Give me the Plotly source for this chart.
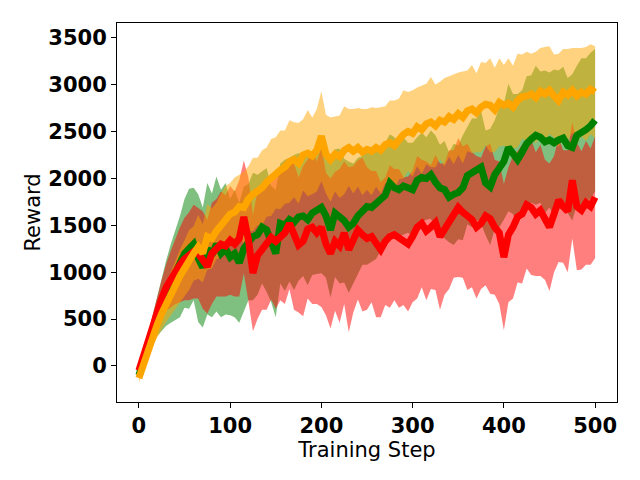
import numpy as np
import plotly.graph_objects as go

# training steps, sampled every 5 steps
steps = np.arange(0, 501, 5)

green_mean = [-100, 60, 230, 390, 530, 660, 780, 880, 970, 1060,
              1200, 1250, 1300, 1150, 1050, 1250, 1180, 1300, 1200, 1250,
              1160, 1200, 1100, 1250, 1320, 1380, 1400, 1480, 1450, 1300,
              1200, 1520, 1500, 1560, 1530, 1590, 1600, 1560, 1630, 1660,
              1690, 1600, 1450, 1630, 1600, 1550, 1480, 1520, 1600, 1660,
              1700, 1690, 1740, 1770, 1820, 1950, 1900, 1880, 1920, 1900,
              1880, 1980, 2010, 2000, 2040, 1960, 1900, 1880, 1800, 1830,
              1850, 1900, 2030, 2060, 2100, 2120, 1950, 1910, 2040, 2120,
              2180, 2330, 2260, 2200, 2280, 2370, 2420, 2460, 2440, 2390,
              2410, 2380, 2410, 2430, 2350, 2330, 2460, 2480, 2520, 2560,
              2620]
green_std = [30, 60, 100, 150, 210, 280, 350, 420, 480, 540,
             580, 640, 600, 680, 640, 700, 660, 720, 680, 700,
             620, 680, 640, 660, 620, 680, 640, 600, 660, 620,
             680, 640, 700, 660, 720, 680, 640, 700, 660, 680,
             700, 660, 720, 680, 720, 660, 700, 640, 620, 580,
             620, 580, 600, 540, 560, 520, 540, 500, 520, 480,
             500, 460, 480, 440, 470, 500, 460, 520, 480, 540,
             500, 560, 520, 580, 540, 600, 560, 620, 580, 640,
             620, 680, 640, 700, 660, 720, 680, 740, 700, 760,
             720, 780, 740, 760, 720, 780, 740, 800, 760, 780,
             760]

red_mean = [-50, 110, 280, 440, 580, 720, 840, 930, 1010, 1080,
            1140, 1170, 1220, 1200, 1130, 1060, 1200, 1260, 1300, 1280,
            1340, 1300, 1360, 1590, 1350, 990, 1180, 1240, 1300, 1370,
            1330, 1380, 1420, 1520, 1380, 1290, 1330, 1460, 1480, 1420,
            1480, 1300, 1200, 1330, 1280, 1420, 1240, 1350, 1450, 1400,
            1360, 1380, 1300, 1240, 1330, 1380, 1400, 1360, 1330, 1300,
            1380, 1480, 1520, 1440, 1480, 1530, 1380, 1460, 1560, 1620,
            1690, 1640, 1590, 1560, 1480, 1520, 1600, 1570, 1480, 1420,
            1160, 1400, 1480, 1590, 1620, 1720, 1690, 1620, 1660, 1560,
            1480, 1620, 1770, 1700, 1650, 1980, 1700, 1660, 1740, 1700,
            1800]
red_std = [30, 50, 80, 110, 150, 200, 250, 300, 350, 400,
           440, 470, 500, 480, 520, 500, 540, 520, 560, 540,
           580, 560, 620, 600, 660, 620, 680, 640, 700, 660,
           720, 680, 760, 700, 780, 720, 800, 740, 820, 760,
           850, 760, 800, 740, 820, 760, 880, 780, 740, 820,
           760, 700, 780, 720, 680, 760, 700, 740, 680, 720,
           700, 760, 680, 740, 660, 720, 780, 700, 740, 680,
           740, 700, 780, 720, 760, 700, 740, 800, 720, 760,
           780, 720, 760, 700, 740, 680, 720, 660, 700, 640,
           680, 620, 660, 600, 650, 620, 680, 630, 660, 620,
           650]

orange_mean = [-130, 20, 180, 320, 440, 560, 670, 770, 870, 960,
               1040, 1130, 1200, 1270, 1200, 1380, 1360, 1440, 1500, 1560,
               1620, 1640, 1700, 1690, 1780, 1830, 1860, 1900, 1960, 2010,
               2060, 2090, 2120, 2180, 2200, 2160, 2250, 2270, 2240, 2300,
               2450, 2260, 2200, 2260, 2230, 2300, 2330, 2290, 2330, 2280,
               2310, 2290, 2330, 2300, 2360, 2380, 2350, 2420, 2470, 2500,
               2480, 2550, 2520, 2580, 2600, 2560, 2620, 2600, 2660, 2630,
               2690, 2650, 2720, 2740, 2700, 2760, 2790, 2780, 2730, 2810,
               2780, 2800, 2760, 2830, 2870, 2880, 2900, 2860, 2930, 2900,
               2940, 2880, 2830, 2920, 2890, 2940, 2880, 2920, 2900, 2950,
               2920]
orange_std = [50, 70, 90, 110, 140, 170, 200, 230, 260, 280,
              300, 320, 290, 340, 310, 350, 320, 300, 340, 360,
              330, 370, 340, 380, 350, 390, 360, 400, 370, 410,
              380, 420, 390, 440, 400, 430, 380, 460, 410, 440,
              480, 420, 450, 400, 440, 470, 410, 450, 420, 460,
              430, 470, 420, 460, 410, 450, 480, 430, 470, 420,
              460, 420, 470, 430, 480, 440, 410, 470, 430, 480,
              440, 490, 430, 470, 420, 480, 440, 500, 450, 470,
              430, 480, 440, 500, 450, 470, 430, 490, 460, 500,
              470, 440, 500, 460, 490, 450, 510, 470, 500, 480,
              490]

series = [
    ("green", green_mean, green_std, "rgba(0,128,0,0.5)"),
    ("red", red_mean, red_std, "rgba(255,0,0,0.5)"),
    ("orange", orange_mean, orange_std, "rgba(255,165,0,0.5)"),
]

fig = go.Figure()

# shaded bands first
for name, mean, std, fillc in series:
    m = np.array(mean)
    s = np.array(std)
    fig.add_trace(go.Scatter(x=steps, y=m - s, mode="lines", line=dict(width=0),
                             showlegend=False, hoverinfo="skip"))
    fig.add_trace(go.Scatter(x=steps, y=m + s, mode="lines", line=dict(width=0),
                             fill="tonexty", fillcolor=fillc,
                             showlegend=False, hoverinfo="skip"))

# then the mean lines on top
for name, mean, std, fillc in series:
    fig.add_trace(go.Scatter(x=steps, y=mean, mode="lines",
                             line=dict(color=name, width=7),
                             showlegend=False))

axis_style = dict(showline=True, linecolor="black", linewidth=1, mirror=True,
                  ticks="outside", ticklen=5, tickwidth=1, tickcolor="black",
                  showgrid=False, zeroline=False, automargin=False,
                  tickfont=dict(family="DejaVu Sans", size=21, color="black", weight="bold"))

# page body adds ~8px offset, so margins are shifted to land the axes where the original has them
fig.update_layout(
    width=640, height=480,
    margin=dict(l=109, r=31, t=15, b=86),
    paper_bgcolor="white", plot_bgcolor="white",
    font=dict(family="DejaVu Sans", color="black"),
    xaxis=dict(range=[-24, 524], tickvals=[0, 100, 200, 300, 400, 500],
               title=dict(text="Training Step", font=dict(size=21), standoff=3),
               **axis_style),
    yaxis=dict(range=[-384, 3657], tickvals=[0, 500, 1000, 1500, 2000, 2500, 3000, 3500],
               title=dict(text="Reward", font=dict(size=21), standoff=1),
               **axis_style),
)

fig.write_html("out.html")
